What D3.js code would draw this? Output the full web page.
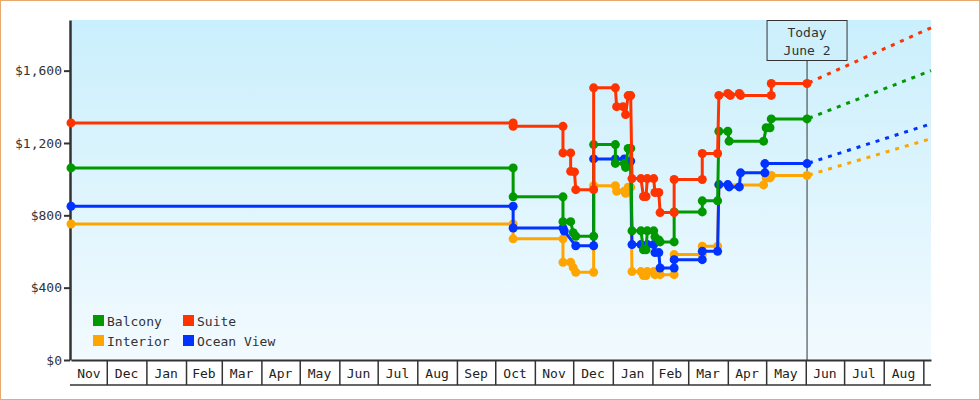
<!DOCTYPE html>
<html>
<head>
<meta charset="utf-8">
<script src="https://cdn.jsdelivr.net/npm/d3@7"></script>
<style>
  body { margin: 0; background: #fff; }
  svg { display: block; font-family: "DejaVu Sans Mono", monospace; }
</style>
</head>
<body>
<div id="chart"></div>
<script>
  // cabin fare history, one [date, price] pair per observation
  var seriesNames = ['Balcony', 'Suite', 'Interior', 'Ocean View'];

  var balconyData = [
    ['2012-11-03',1062],['2013-10-15',1062],['2013-10-15',902],['2013-11-23',902],['2013-11-23',765],
    ['2013-11-29',765],['2013-12-01',704],['2013-12-03',684],['2013-12-17',684],['2013-12-17',1191],
    ['2014-01-03',1191],['2014-01-03',1087],['2014-01-10',1087],['2014-01-11',1065],['2014-01-13',1170],
    ['2014-01-15',1170],['2014-01-16',714],['2014-01-23',714],['2014-01-25',609],['2014-01-27',609],
    ['2014-01-28',714],['2014-02-02',714],['2014-02-03',681],['2014-02-06',664],['2014-02-07',653],
    ['2014-02-18',653],['2014-02-18',819],['2014-03-12',819],['2014-03-12',880],['2014-03-24',880],
    ['2014-03-25',1265],['2014-04-01',1265],['2014-04-02',1210],['2014-04-29',1210],['2014-05-01',1284],
    ['2014-05-04',1284],['2014-05-05',1333],['2014-06-02',1333]
  ];
  var suiteData = [
    ['2012-11-03',1311],['2013-10-15',1311],['2013-10-15',1292],['2013-11-23',1292],['2013-11-23',1145],
    ['2013-11-29',1145],['2013-11-29',1043],['2013-12-02',1040],['2013-12-03',942],['2013-12-17',942],
    ['2013-12-17',1505],['2014-01-03',1505],['2014-01-04',1401],['2014-01-09',1401],['2014-01-11',1357],
    ['2014-01-13',1462],['2014-01-15',1462],['2014-01-16',1003],['2014-01-23',1003],['2014-01-25',904],
    ['2014-01-27',904],['2014-01-28',1003],['2014-02-02',1003],['2014-02-03',926],['2014-02-06',926],
    ['2014-02-07',815],['2014-02-18',815],['2014-02-18',998],['2014-03-12',998],['2014-03-12',1142],
    ['2014-03-24',1142],['2014-03-25',1463],['2014-04-01',1474],['2014-04-03',1463],['2014-04-10',1474],
    ['2014-04-11',1463],['2014-05-05',1463],['2014-05-05',1529],['2014-06-02',1529]
  ];
  var interiorData = [
    ['2012-11-03',752],['2013-10-15',752],['2013-10-15',670],['2013-11-23',670],['2013-11-23',540],
    ['2013-11-29',540],['2013-12-01',511],['2013-12-03',485],['2013-12-17',485],['2013-12-17',964],
    ['2014-01-03',964],['2014-01-04',933],['2014-01-10',933],['2014-01-11',922],['2014-01-13',955],
    ['2014-01-15',955],['2014-01-16',489],['2014-01-23',489],['2014-01-25',467],['2014-01-27',467],
    ['2014-01-28',489],['2014-02-02',489],['2014-02-03',472],['2014-02-07',472],['2014-02-18',472],
    ['2014-02-18',583],['2014-03-12',583],['2014-03-12',629],['2014-03-24',629],['2014-03-25',968],
    ['2014-04-29',968],['2014-05-01',1007],['2014-05-04',1007],['2014-05-05',1020],['2014-06-02',1020]
  ];
  var oceanViewData = [
    ['2012-11-03',850],['2013-10-15',850],['2013-10-15',730],['2013-11-23',730],['2013-11-24',713],
    ['2013-12-03',632],['2013-12-17',632],['2013-12-17',1112],['2014-01-03',1112],['2014-01-10',1112],
    ['2014-01-15',1100],['2014-01-16',638],['2014-01-23',638],['2014-01-28',638],['2014-02-02',638],
    ['2014-02-03',594],['2014-02-06',594],['2014-02-07',509],['2014-02-18',509],['2014-02-18',555],
    ['2014-03-12',555],['2014-03-12',601],['2014-03-24',601],['2014-03-25',970],['2014-04-01',970],
    ['2014-04-02',957],['2014-04-10',957],['2014-04-11',1035],['2014-04-30',1035],['2014-04-30',1086],
    ['2014-06-02',1086]
  ];

  // projected price at the right edge of the chart
  var forecastDates = ['2014-06-02', '2014-09-07'];
  var forecastEnd = [1600, 1837, 1224, 1306];

  var todayDate = '2014-06-02';
  var todayLabel = ['Today', 'June 2'];
  var xDomain = ['2012-11-03', '2014-09-07'];
  var yTicks = [0, 400, 800, 1200, 1600];
  var yMax = 1880;

  var colors = ['#009900', '#ff3300', '#ffa500', '#0033ff'];
  var drawOrder = [2, 3, 0, 1];

  var parse = d3.timeParse('%Y-%m-%d');
  var allData = [balconyData, suiteData, interiorData, oceanViewData].map(function (s) {
    return s.map(function (d) { return { date: parse(d[0]), value: d[1] }; });
  });

  var width = 980, height = 400;
  var plotL = 71, plotR = 931, plotT = 20, plotB = 360;

  var x = d3.scaleTime().domain(xDomain.map(parse)).range([plotL, plotR]);
  var y = d3.scaleLinear().domain([0, yMax]).range([plotB, plotT]);

  var svg = d3.select('#chart').append('svg')
    .attr('width', width).attr('height', height);

  var grad = svg.append('defs').append('linearGradient')
    .attr('id', 'bg').attr('x1', 0).attr('y1', 0).attr('x2', 0).attr('y2', 1);
  grad.append('stop').attr('offset', '0%').attr('stop-color', '#caeffc');
  grad.append('stop').attr('offset', '100%').attr('stop-color', '#f2faff');

  svg.append('rect')
    .attr('x', 0.5).attr('y', 0.5).attr('width', width - 1).attr('height', height - 1)
    .attr('fill', '#fff').attr('stroke', '#e8aa6c');

  svg.append('rect')
    .attr('x', plotL).attr('y', plotT).attr('width', plotR - plotL).attr('height', plotB - plotT)
    .attr('fill', 'url(#bg)');

  // month cells under the plot
  var d0 = x.domain()[0], d1 = x.domain()[1];
  var months = d3.timeMonth.range(d3.timeMonth.floor(d0), d1);
  function cellEdges(m) {
    var next = d3.timeMonth.offset(m, 1);
    return [x(m < d0 ? d0 : m), x(next > d1 ? d1 : next)];
  }

  var xAxis = svg.append('g')
    .attr('transform', 'translate(0,' + plotB + ')')
    .call(d3.axisBottom(x)
      .tickValues(months.filter(function (m) { return m > d0; }))
      .tickSize(25).tickSizeOuter(0).tickFormat(''));
  xAxis.select('.domain').attr('stroke', '#333').attr('stroke-width', 2);
  xAxis.selectAll('.tick line').attr('stroke', '#333').attr('stroke-width', 1.5);

  svg.append('line')
    .attr('x1', plotL - 1).attr('x2', plotR).attr('y1', plotB + 25).attr('y2', plotB + 25)
    .attr('stroke', '#333').attr('stroke-width', 1.5);

  svg.append('g').selectAll('text').data(months).enter().append('text')
    .attr('x', function (m) { var e = cellEdges(m); return (e[0] + e[1]) / 2; })
    .attr('y', plotB + 13)
    .attr('dy', '0.35em')
    .attr('text-anchor', 'middle')
    .attr('font-size', 13)
    .attr('fill', '#222')
    .text(function (m) {
      var e = cellEdges(m);
      return e[1] - e[0] > 24 ? d3.timeFormat('%b')(m) : '';
    });

  var yAxis = svg.append('g')
    .attr('transform', 'translate(' + (plotL - 1) + ',0)')
    .call(d3.axisLeft(y).tickValues(yTicks).tickSize(6).tickSizeOuter(0)
      .tickFormat(function (d) { return '$' + d3.format(',')(d); }));
  yAxis.select('.domain').attr('stroke', '#333').attr('stroke-width', 2.5);
  yAxis.selectAll('.tick line').attr('stroke', '#333').attr('stroke-width', 2);
  yAxis.selectAll('.tick text')
    .attr('font-family', '"DejaVu Sans Mono", monospace')
    .attr('font-size', 13).attr('fill', '#333').attr('x', -8);

  // today marker
  var tx = x(parse(todayDate));
  svg.append('line')
    .attr('x1', tx).attr('x2', tx).attr('y1', plotT + 40).attr('y2', plotB)
    .attr('stroke', '#333').attr('stroke-width', 1);
  svg.append('rect')
    .attr('x', tx - 40).attr('y', plotT + 0.5).attr('width', 80).attr('height', 40)
    .attr('fill', '#cdf0fc').attr('stroke', '#333').attr('stroke-width', 1);
  svg.append('g').selectAll('text').data(todayLabel).enter().append('text')
    .attr('x', tx).attr('y', function (d, i) { return plotT + 12 + i * 18; })
    .attr('dy', '0.35em').attr('text-anchor', 'middle')
    .attr('font-size', 13).attr('fill', '#333')
    .text(function (d) { return d; });

  var line = d3.line()
    .x(function (d) { return x(d.date); })
    .y(function (d) { return y(d.value); });

  var plot = svg.append('g');
  drawOrder.forEach(function (i) {
    var last = allData[i][allData[i].length - 1];
    var proj = [
      { date: parse(forecastDates[0]), value: last.value },
      { date: parse(forecastDates[1]), value: forecastEnd[i] }
    ];
    plot.append('path').datum(proj)
      .attr('d', line).attr('fill', 'none')
      .attr('stroke', colors[i]).attr('stroke-width', 3)
      .attr('stroke-dasharray', '4,6').attr('stroke-dashoffset', 8);

    plot.append('path').datum(allData[i])
      .attr('d', line).attr('fill', 'none')
      .attr('stroke', colors[i]).attr('stroke-width', 3)
      .attr('stroke-linejoin', 'round');

    plot.append('g').selectAll('circle').data(allData[i]).enter().append('circle')
      .attr('cx', function (d) { return x(d.date); })
      .attr('cy', function (d) { return y(d.value); })
      .attr('r', 4.5)
      .attr('fill', colors[i]);
  });

  // legend, two columns
  var legend = svg.append('g').selectAll('g').data(seriesNames).enter().append('g')
    .attr('transform', function (d, i) {
      return 'translate(' + (93 + (i % 2) * 90) + ',' + (315 + Math.floor(i / 2) * 20) + ')';
    });
  legend.append('rect')
    .attr('width', 11).attr('height', 11)
    .attr('fill', function (d, i) { return colors[i]; });
  legend.append('text')
    .attr('x', 14).attr('y', 6).attr('dy', '0.35em')
    .attr('font-size', 13).attr('fill', '#333')
    .text(function (d) { return d; });
</script>
</body>
</html>
